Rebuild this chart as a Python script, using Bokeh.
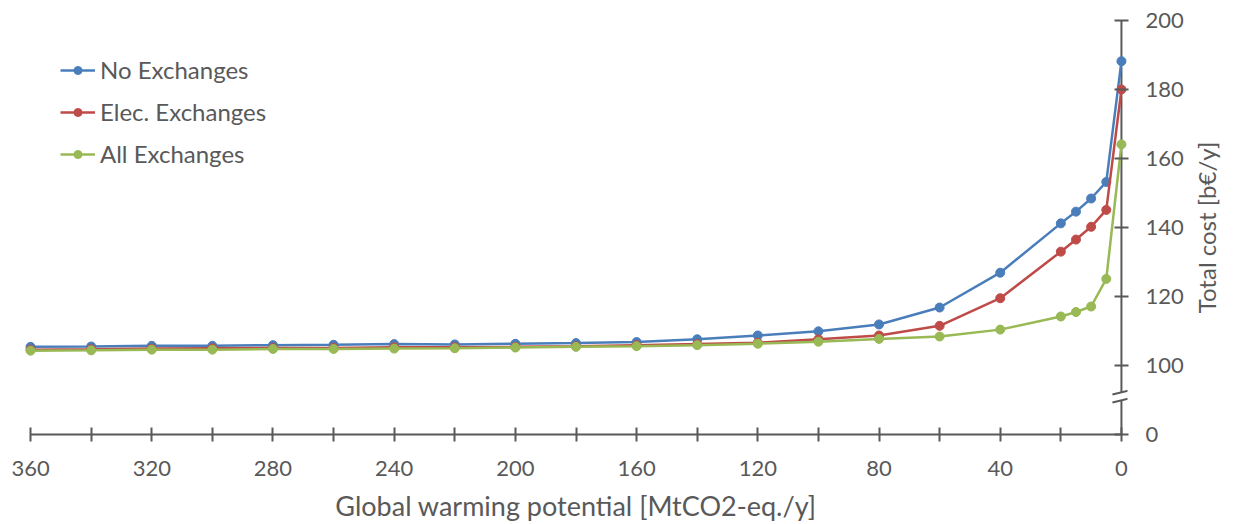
from bokeh.plotting import figure
from bokeh.layouts import row
from bokeh.models import Range1d, FixedTicker, LinearAxis, Legend, LegendItem
from bokeh.core.properties import value
from bokeh.embed import file_html
from bokeh.resources import INLINE

# ---- data ----
gwp = [360, 340, 320, 300, 280, 260, 240, 220, 200, 180, 160, 140, 120, 100, 80, 60, 40, 20, 15, 10, 5, 0]
no_exchanges = [105.4, 105.5, 105.7, 105.7, 105.9, 106.0, 106.2, 106.1, 106.3, 106.5, 106.8, 107.6,
                108.7, 109.9, 111.9, 116.8, 126.9, 141.2, 144.6, 148.4, 153.2, 188.2]
elec_exchanges = [104.6, 104.7, 104.9, 105.0, 105.1, 105.1, 105.3, 105.3, 105.4, 105.6, 105.9, 106.2,
                  106.6, 107.6, 108.7, 111.5, 119.5, 133.0, 136.5, 140.2, 145.1, 180.0]
all_exchanges = [104.3, 104.4, 104.6, 104.6, 104.8, 104.8, 104.9, 105.0, 105.2, 105.4, 105.6, 105.9,
                 106.3, 106.9, 107.7, 108.4, 110.4, 114.2, 115.5, 117.1, 125.1, 164.1]
series_names = ["No Exchanges", "Elec. Exchanges", "All Exchanges"]
series_colors = ["#4A7EBB", "#BE4B48", "#98B954"]

x_ticks = [0, 20, 40, 60, 80, 100, 120, 140, 160, 180, 200, 220, 240, 260, 280, 300, 320, 340, 360]
x_labels = ["0", "", "40", "", "80", "", "120", "", "160", "", "200", "", "240", "", "280", "", "320", "", "360"]
# broken y axis: real 0 is drawn at position 80
y_ticks = [80, 100, 120, 140, 160, 180, 200]
y_labels = ["0", "100", "120", "140", "160", "180", "200"]
y_axis_top = 200
y_axis_bottom = 80
break_low = [(2.97, 89.25), (-2.3, 90.41)]
break_high = [(2.97, 91.57), (-2.3, 92.72)]
axis_gap = (89.9, 92.2)
y_title = "Total cost [b€/y]"
x_title = "Global warming potential [MtCO2-eq./y]"

FONT = "Lato"
GREY = "#595959"

p = figure(width=1188, height=524, output_backend="svg", toolbar_location=None,
           x_range=Range1d(362, -2), y_range=Range1d(y_axis_bottom, y_axis_top),
           min_border_left=24, min_border_right=61, min_border_top=20, min_border_bottom=89,
           y_axis_location=None)
p.outline_line_color = None
p.grid.visible = False
p.background_fill_color = "white"

# x axis
xa = p.xaxis[0]
xa.ticker = FixedTicker(ticks=x_ticks)
xa.major_label_overrides = {t: l for t, l in zip(x_ticks, x_labels)}
xa.bounds = (0, 360)
xa.axis_line_color = GREY
xa.axis_line_width = 2
xa.major_tick_line_color = GREY
xa.major_tick_line_width = 2
xa.major_tick_in = 7
xa.major_tick_out = 7
xa.minor_tick_line_color = None
xa.major_label_text_font = FONT
xa.major_label_text_font_size = "22px"
xa.major_label_text_color = GREY
xa.major_label_standoff = 19
xa.axis_label = x_title
xa.axis_label_text_font = FONT
xa.axis_label_text_font_size = "27px"
xa.axis_label_text_font_style = "normal"
xa.axis_label_text_color = GREY
xa.axis_label_standoff = 10

# right y axis (ticks centred on x = 0)
ya = LinearAxis(ticker=FixedTicker(ticks=y_ticks),
                major_label_overrides={t: l for t, l in zip(y_ticks, y_labels)})
ya.axis_line_color = None
ya.major_tick_line_color = GREY
ya.major_tick_line_width = 2
ya.major_tick_in = 13
ya.major_tick_out = 1
ya.minor_tick_line_color = None
ya.major_label_text_font = FONT
ya.major_label_text_font_size = "22px"
ya.major_label_text_color = GREY
ya.major_label_standoff = 17
p.add_layout(ya, "right")

# y axis line at x = 0 with a break
p.segment(x0=[0, 0], y0=[y_axis_bottom, axis_gap[1]], x1=[0, 0], y1=[axis_gap[0], y_axis_top],
          line_color=GREY, line_width=2)
p.segment(x0=[break_low[0][0], break_high[0][0]], y0=[break_low[0][1], break_high[0][1]],
          x1=[break_low[1][0], break_high[1][0]], y1=[break_low[1][1], break_high[1][1]],
          line_color=GREY, line_width=2)

items = []
for name, ys, c in zip(series_names, [no_exchanges, elec_exchanges, all_exchanges], series_colors):
    r1 = p.line(gwp, ys, line_color=c, line_width=2.5)
    r2 = p.scatter(gwp, ys, size=9, fill_color=c, line_color=c)
    items.append(LegendItem(label=name, renderers=[r1, r2]))

leg = Legend(items=items, location=(36, 266), orientation="vertical")
leg.background_fill_alpha = 0
leg.border_line_color = None
leg.margin = 0
leg.padding = 0
leg.spacing = 13
leg.glyph_width = 35
leg.glyph_height = 20
leg.label_height = 20
leg.label_standoff = 5
leg.label_text_font = FONT
leg.label_text_font_size = "24px"
leg.label_text_color = GREY
p.add_layout(leg, "center")

# narrow companion figure carrying the y-axis title (reads bottom to top)
p2 = figure(width=45, height=524, output_backend="svg", toolbar_location=None,
            x_range=Range1d(0, 1), y_range=Range1d(0, 1),
            x_axis_location=None, y_axis_location="left",
            min_border_left=31, min_border_right=0, min_border_top=20, min_border_bottom=89)
p2.outline_line_color = None
p2.grid.visible = False
ta = p2.yaxis[0]
ta.ticker = FixedTicker(ticks=[])
ta.axis_line_color = None
ta.major_tick_line_color = None
ta.minor_tick_line_color = None
ta.major_tick_in = 0
ta.major_tick_out = 0
ta.minor_tick_in = 0
ta.minor_tick_out = 0
ta.major_label_standoff = 0
ta.axis_label = y_title
ta.axis_label_standoff = 0
ta.axis_label_text_font = FONT
ta.axis_label_text_font_size = "24px"
ta.axis_label_text_font_style = "normal"
ta.axis_label_text_color = GREY

layout = row(p, p2)
open("out.html", "w").write(file_html(layout, INLINE))
